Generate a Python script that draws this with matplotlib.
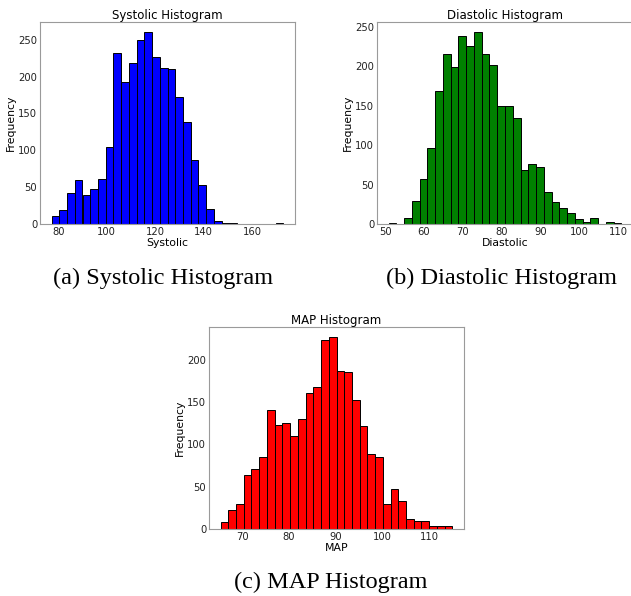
import numpy as np
import matplotlib
matplotlib.use("Agg")
import matplotlib.pyplot as plt

# counts per bin (30 equal-width bins each)
SYS_RANGE = (77.3, 173.0)
SYS_COUNTS = [11, 19, 42, 60, 40, 48, 61, 104, 232, 192, 218, 250, 261, 227, 212,
              210, 172, 138, 87, 53, 20, 4, 1, 1, 0, 0, 0, 0, 0, 1]

DIA_RANGE = (50.9, 110.8)
DIA_COUNTS = [1, 0, 7, 29, 57, 96, 169, 215, 199, 239, 226, 244, 216, 202, 150,
              150, 135, 68, 76, 72, 41, 28, 20, 14, 6, 3, 7, 0, 2, 1]

MAP_RANGE = (65.4, 115.0)
MAP_COUNTS = [8, 22, 30, 64, 71, 85, 141, 123, 125, 110, 130, 160, 167, 223, 227,
              187, 185, 152, 122, 89, 85, 30, 47, 33, 12, 9, 9, 4, 3, 3]

PANELS = [
    ("Systolic", SYS_RANGE, SYS_COUNTS, "blue", "(a) Systolic Histogram"),
    ("Diastolic", DIA_RANGE, DIA_COUNTS, "green", "(b) Diastolic Histogram"),
    ("MAP", MAP_RANGE, MAP_COUNTS, "red", "(c) MAP Histogram"),
]

# axes rectangles in pixels: left, top, width, height
W, H = 631, 596
BOXES = [(40, 22, 255, 202), (377, 22, 256, 202), (209, 327, 255, 202)]
CAPS = [(163, 278), (501, 278), (331, 582)]

fig = plt.figure(figsize=(W / 100, H / 100), dpi=100)

for (name, rng, counts, col, cap), (l, t, w, h), (cx, cy) in zip(PANELS, BOXES, CAPS):
    ax = fig.add_axes([l / W, (H - t - h) / H, w / W, h / H])
    edges = np.linspace(rng[0], rng[1], len(counts) + 1)
    centers = (edges[:-1] + edges[1:]) / 2
    ax.hist(centers, bins=edges, weights=counts, color=col, edgecolor="black", linewidth=0.7)
    ax.set_title(f"{name} Histogram", fontsize=8.5, pad=2)
    ax.set_xlabel(name, fontsize=7.8, labelpad=1)
    ax.set_ylabel("Frequency", fontsize=7.8, labelpad=2)
    ax.tick_params(length=0, labelsize=7.2, pad=2, colors="#222222")
    for s in ax.spines.values():
        s.set_color("#9a9a9a")
        s.set_linewidth(0.8)
    fig.text(cx / W, 1 - cy / H, cap, ha="center", va="center",
             family="Liberation Serif", fontsize=17.5)

fig.savefig("out.png", dpi=100)
